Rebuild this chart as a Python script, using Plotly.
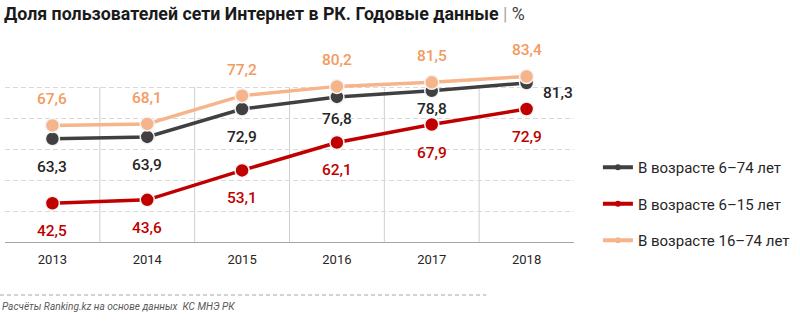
import plotly.graph_objects as go

# ---- data ----
years = ["2013", "2014", "2015", "2016", "2017", "2018"]
age_6_74 = [63.3, 63.9, 72.9, 76.8, 78.8, 81.3]
age_6_15 = [42.5, 43.6, 53.1, 62.1, 67.9, 72.9]
age_16_74 = [67.6, 68.1, 77.2, 80.2, 81.5, 83.4]
series_names = ["В возрасте 6–74 лет", "В возрасте 6–15 лет", "В возрасте 16–74 лет"]
grid_values = [40, 50, 60, 70, 80]

title_text = "Доля пользователей сети Интернет в РК. Годовые данные"
source_text = "Расчёты Ranking.kz на основе данных  КС МНЭ РК"

# ---- styles ----
W, H = 800, 332
L, R, T, B = 5, 224, 56, 90
Y_RANGE = [30, 90]
FONT = "Roboto, 'Noto Sans', sans-serif"

styles = [
    dict(line="#404040", label="#262626", dy=[-28, -28, -28, -22, -18, -10], dx=[0, 0, 0, 0, 0, 31]),
    dict(line="#c00000", label="#c00000", dy=[-28] * 6, dx=[0] * 6),
    dict(line="#f6b48a", label="#f29b5f", dy=[26] * 6, dx=[0] * 6),
]
series = [age_6_74, age_6_15, age_16_74]

x_idx = list(range(len(years)))
fig = go.Figure()

for vals, name, st in zip(series, series_names, styles):
    fig.add_trace(go.Scatter(
        x=x_idx, y=vals, mode="lines+markers", name=name, showlegend=False,
        line=dict(color=st["line"], width=3.5),
        marker=dict(size=14, color=st["line"], line=dict(color="#f4f4f4", width=1.5)),
        cliponaxis=False, hoverinfo="skip",
    ))

# legend-only entries (small markers as in the reference)
for i, (name, st) in enumerate(zip(series_names, styles)):
    fig.add_trace(go.Scatter(
        x=[None], y=[None], mode="lines+markers", name=name, legendgroup=f"g{i}",
        line=dict(color=st["line"], width=4),
        marker=dict(size=6, color=st["line"]),
    ))

annotations = []
for vals, st in zip(series, styles):
    for i, v in enumerate(vals):
        annotations.append(dict(
            x=i, y=v, xref="x", yref="y", showarrow=False,
            text=f"{v:.1f}".replace(".", ","),
            font=dict(family=FONT, size=15.5, color=st["label"], weight=500),
            yshift=st["dy"][i], xshift=st["dx"][i],
        ))

pw = W - L - R
ph = H - T - B
def px_x(px):
    return (px - L) / pw
def px_y(py):
    return (H - B - py) / ph

annotations.append(dict(
    xref="paper", yref="paper", x=px_x(2), y=px_y(13), xanchor="left", yanchor="middle",
    showarrow=False,
    text=f"<b>{title_text}</b> <span style='color:#a6a6a6'>|</span> <span style='color:#404040'>%</span>",
    font=dict(family=FONT, size=17.8, color="#1a1a1a"),
))
annotations.append(dict(
    xref="paper", yref="paper", x=px_x(0), y=px_y(306), xanchor="left", yanchor="middle",
    showarrow=False, text=f"<i>{source_text}</i>",
    font=dict(family=FONT, size=10.1, color="#595959"),
))

shapes = []
for i in range(len(years) - 1):
    shapes.append(dict(type="line", xref="x", yref="y", x0=i + 0.5, x1=i + 0.5,
                       y0=Y_RANGE[0], y1=grid_values[-1],
                       line=dict(color="#cfcfcf", width=1), layer="below"))
shapes.append(dict(type="line", xref="paper", yref="paper", x0=px_x(0), x1=px_x(488),
                   y0=px_y(295), y1=px_y(295),
                   line=dict(color="#a6a6a6", width=1, dash="4px,3px")))

fig.update_layout(
    width=W, height=H, margin=dict(l=L, r=R, t=T, b=B),
    paper_bgcolor="white", plot_bgcolor="white",
    showlegend=True,
    legend=dict(x=px_x(600), y=px_y(151), xanchor="left", yanchor="top",
                font=dict(family=FONT, size=15, color="#262626"),
                tracegroupgap=14, bgcolor="rgba(0,0,0,0)"),
    xaxis=dict(range=[-0.5, len(years) - 0.5], tickvals=x_idx, ticktext=years,
               showgrid=False, zeroline=False, showline=True, linecolor="#a6a6a6", linewidth=1,
               ticks="", ticklabelstandoff=5, tickfont=dict(family=FONT, size=13, color="#262626"),
               fixedrange=True),
    yaxis=dict(range=Y_RANGE, tickvals=grid_values, showticklabels=False, showgrid=True,
               gridcolor="#d9d9d9", griddash="5px,3px", gridwidth=1, zeroline=False,
               showline=False, fixedrange=True),
    annotations=annotations, shapes=shapes,
)

fig.write_html("out.html")
